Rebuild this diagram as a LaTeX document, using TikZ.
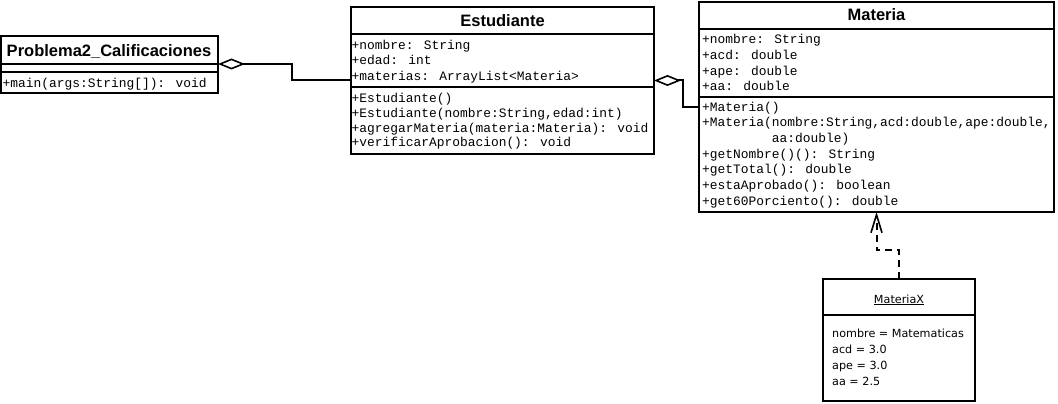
\documentclass[tikz,border=0pt]{standalone}
\usepackage{fontspec}
\usetikzlibrary{arrows.meta}
\newfontfamily\umlmono{Liberation Mono}
\newfontfamily\umlhead{Liberation Sans}
\newfontfamily\umlobj{DejaVu Sans}
\newcommand{\membfont}{\umlmono\fontsize{12.9}{15.6}\selectfont}
\newcommand{\namefont}{\umlhead\bfseries\fontsize{16.5}{19}\selectfont}
\newcommand{\objfont}{\umlobj\fontsize{11.2}{16}\selectfont}
\begin{document}
\begin{tikzpicture}[x=1pt,y=-1pt,
  classbox/.style={draw, rectangle, line width=2pt, anchor=north west, inner sep=0pt, outer sep=0pt},
  sepline/.style={line width=2pt},
  member/.style={anchor=base west, inner sep=0pt, font=\membfont},
  classname/.style={anchor=base, inner sep=0pt, font=\namefont},
  objtext/.style={anchor=base west, inner sep=0pt, font=\objfont},
  aggr/.style={line width=2pt, {Diamond[open,length=27pt,width=11pt,line width=1.6pt]}-},
  realiz/.style={line width=2pt, dash pattern=on 7pt off 5pt, -{Straight Barb[length=18pt,width=11pt,line width=1.6pt]}}]
\useasboundingbox (0,0) rectangle (1058,404);

\node[classbox, minimum width=217pt, minimum height=57pt] (prob) at (1,36) {};
\node[classbox, minimum width=303pt, minimum height=147pt] (est) at (351,7) {};
\node[classbox, minimum width=355pt, minimum height=210pt] (mat) at (699,2) {};
\node[classbox, minimum width=152pt, minimum height=122pt] (matx) at (823,279) {};

\draw[sepline] ([yshift=-28pt]prob.north west) -- ([yshift=-28pt]prob.north east);
\draw[sepline] ([yshift=-36pt]prob.north west) -- ([yshift=-36pt]prob.north east);
\draw[sepline] ([yshift=-27pt]est.north west) -- ([yshift=-27pt]est.north east);
\draw[sepline] ([yshift=-80pt]est.north west) -- ([yshift=-80pt]est.north east);
\draw[sepline] ([yshift=-27pt]mat.north west) -- ([yshift=-27pt]mat.north east);
\draw[sepline] ([yshift=-95pt]mat.north west) -- ([yshift=-95pt]mat.north east);
\draw[sepline] ([yshift=-36pt]matx.north west) -- ([yshift=-36pt]matx.north east);

\node[classname] (prob-t) at (109,56.5) {Problema2\_Calificaciones};
\node[classname] (est-t) at (502.5,27) {Estudiante};
\node[classname] (mat-t) at (876.5,21) {Materia};
\node[anchor=base, inner sep=0pt, font=\objfont] (matx-t) at (899,303) {\underline{MateriaX}};

\node[member] (prob-m0) at (2.5,87.3) {+main(args:String[]): void};
\foreach \txt [count=\i from 0] in {+nombre: String, +edad: int, +materias: ArrayList<Materia>}
  \node[member] (est-a\i) at (351.5,{49.5+15.4*\i}) {\txt};
\foreach \txt [count=\i from 0] in {+Estudiante(), {+Estudiante(nombre:String,edad:int)},
    +agregarMateria(materia:Materia): void, +verificarAprobacion(): void}
  \node[member] (est-m\i) at (351.5,{102.6+14.7*\i}) {\txt};
\foreach \txt [count=\i from 0] in {+nombre: String, +acd: double, +ape: double, +aa: double}
  \node[member] (mat-a\i) at (702,{43.5+15.8*\i}) {\txt};
\foreach \txt [count=\i from 0] in {+Materia(), {+Materia(nombre:String,acd:double,ape:double,},
    \phantom{+Materia(}aa:double), +getNombre()(): String, +getTotal(): double,
    +estaAprobado(): boolean, +get60Porciento(): double}
  \node[member] (mat-m\i) at (702,{111+15.67*\i}) {\txt};
\foreach \txt [count=\i from 0] in {nombre = Matematicas, acd = 3.0, ape = 3.0, aa = 2.5}
  \node[objtext] (matx-v\i) at (832,{337.3+16*\i}) {\txt};

\draw[aggr] ([yshift=-28pt]prob.north east) -- (292,64) |- (est.west);
\draw[aggr] (est.east) -- (683,80.5) |- (mat.west);
\draw[realiz] (matx.north) |- (mat.south |- 0,250) -- (mat.south);
\end{tikzpicture}
\end{document}
